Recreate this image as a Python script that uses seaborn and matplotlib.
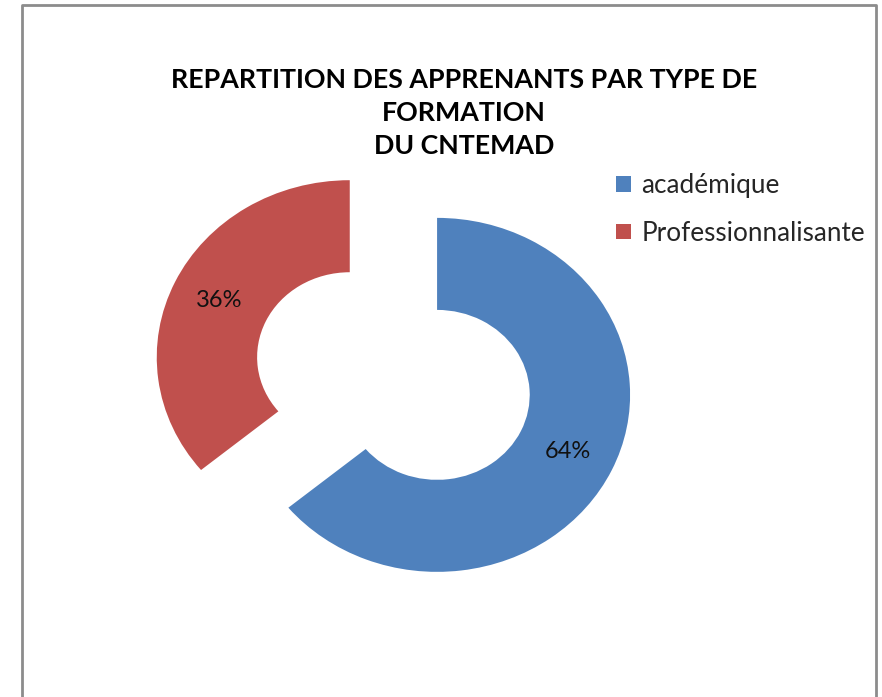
import matplotlib
matplotlib.use("Agg")
import matplotlib.pyplot as plt
import seaborn as sns
from matplotlib.lines import Line2D
from matplotlib.patches import Patch

# data
categories = ["académique", "Professionnalisante"]
shares = [64, 36]
colors = ["#4F81BD", "#C0504D"]
title = "REPARTITION DES APPRENANTS PAR TYPE DE\nFORMATION\nDU CNTEMAD"

sns.set_theme(style="white")
plt.rcParams["font.family"] = ["Lato", "DejaVu Sans"]

W, H = 882, 697
fig = plt.figure(figsize=(W / 100, H / 100), dpi=100)
fig.patch.set_facecolor("white")

# stretched axes: pie radius 193 px wide, 177 px tall
ax = fig.add_axes([0.1178, 0.0796, 0.6565, 0.7618])
wedges, texts, autotexts = ax.pie(
    shares, colors=colors, startangle=90, counterclock=False,
    explode=[0.25, 0.25], autopct="%1.0f%%", pctdistance=0.75,
    wedgeprops=dict(width=0.52, edgecolor="none", linewidth=0),
    textprops=dict(fontsize=17, color="#111111"),
)
ax.set_aspect("auto")
ax.set_xlim(-1.5, 1.5)
ax.set_ylim(-1.5, 1.5)
ax.axis("off")

fig.text(0.526, 1 - 68 / H, title, ha="center", va="top", fontsize=19.3,
         fontweight="bold", color="#000000", linespacing=1.45)

handles = [Patch(facecolor=c, edgecolor="none") for c in colors]
fig.legend(handles, categories, loc="upper left",
           bbox_to_anchor=(606 / W, 1 - 163 / H), frameon=False,
           fontsize=18.8, handlelength=0.55, handleheight=0.55,
           handletextpad=0.4, labelspacing=0.85, borderaxespad=0)

# outer chart border (bottom is cut off)
bc = "#8c8c8c"
x0, x1, y1 = 22 / W, 876 / W, 1 - 5 / H
fig.add_artist(Line2D([x0, x0, x1, x1], [0, y1, y1, 0], color=bc, lw=2,
                      transform=fig.transFigure))

fig.savefig("out.png", dpi=100, facecolor="white")
